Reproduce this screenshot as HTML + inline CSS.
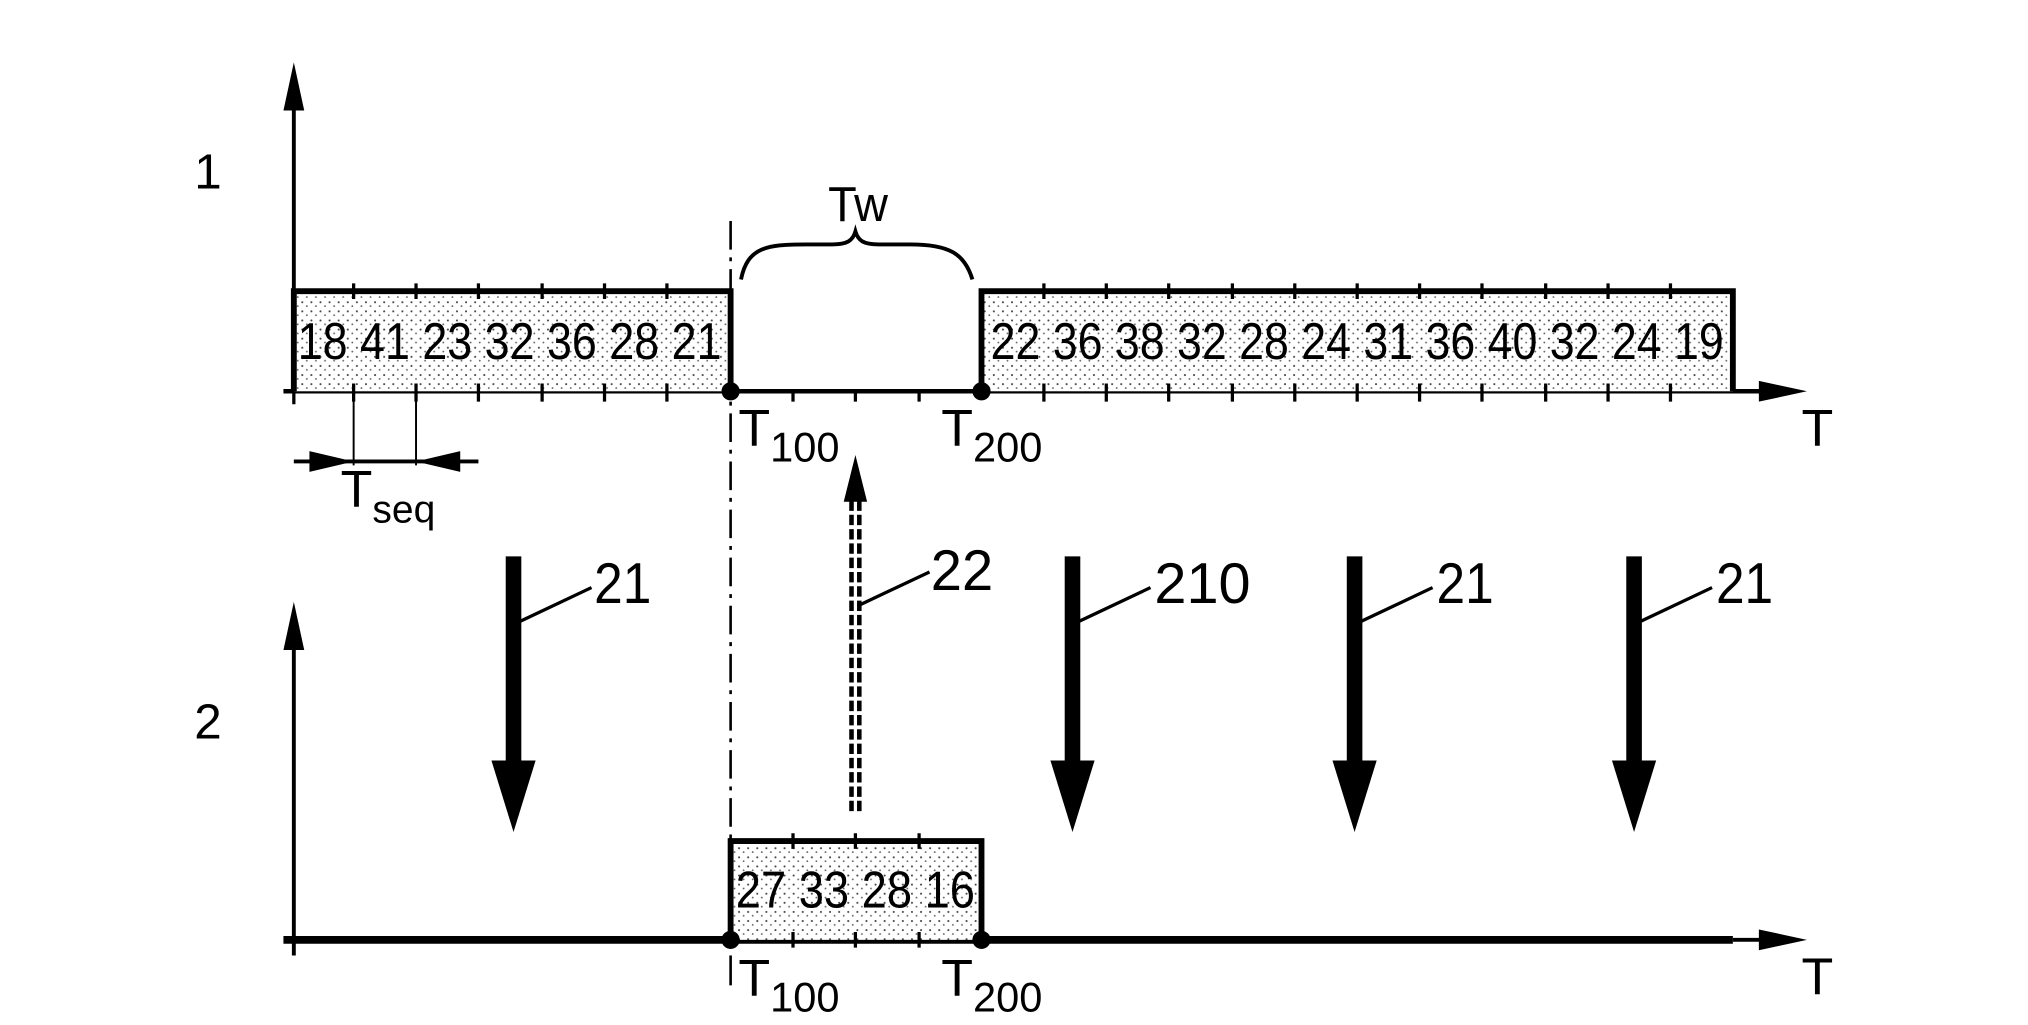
<!DOCTYPE html>
<html><head><meta charset="utf-8"><style>html,body{margin:0;padding:0;background:#fff}svg{display:block}</style></head>
<body>
<svg width="2028" height="1025" viewBox="0 0 1560 788.5" xmlns="http://www.w3.org/2000/svg" font-family="Liberation Sans, sans-serif">
<defs>
<pattern id="dots" width="7" height="7" patternUnits="userSpaceOnUse">
<rect width="7" height="7" fill="#fff"/>
<circle cx="1.5" cy="1.5" r="0.8" fill="#444"/>
<circle cx="5" cy="4.5" r="0.7" fill="#666"/>
</pattern>
</defs>
<g stroke="#000" fill="none">
<line x1="226" y1="80" x2="226" y2="301" stroke-width="3"/>
<line x1="218" y1="301" x2="1360" y2="301" stroke-width="3.5"/>
<rect x="226" y="224" width="336" height="77" fill="url(#dots)" stroke="none"/>
<rect x="755" y="224" width="578" height="77" fill="url(#dots)" stroke="none"/>
<polyline points="226,301 226,224 562,224 562,301" stroke-width="4.5"/>
<polyline points="755,301 755,224 1333,224 1333,301" stroke-width="4.5"/>
<line x1="562" y1="170" x2="562" y2="722" stroke-width="2" stroke-dasharray="22,6,3,6"/>
<path d="M570,215 C575,190 590,188 620,188 L640,188 C652,188 656,185 658,178 C660,185 664,188 676,188 L700,188 C730,188 742,195 748,215" stroke-width="3"/>
<line x1="272" y1="301" x2="272" y2="358" stroke-width="1.5"/>
<line x1="320" y1="301" x2="320" y2="358" stroke-width="1.5"/>
<line x1="226" y1="355" x2="368" y2="355" stroke-width="3"/>
<line x1="226" y1="500" x2="226" y2="735" stroke-width="3"/>
<line x1="218" y1="723" x2="1333" y2="723" stroke-width="6"/>
<line x1="1333" y1="723" x2="1360" y2="723" stroke-width="3"/>
<rect x="562" y="647" width="193" height="76" fill="url(#dots)" stroke="none"/>
<polyline points="562,723 562,647 755,647 755,723" stroke-width="4.5"/>
<line x1="562" y1="735" x2="562" y2="758" stroke-width="2"/>
<line x1="655" y1="385" x2="655" y2="625" stroke-width="3.5" stroke-dasharray="8,3"/>
<line x1="661" y1="385" x2="661" y2="625" stroke-width="3.5" stroke-dasharray="8,3"/>
<line x1="400" y1="478" x2="455" y2="452" stroke-width="2.5"/>
<line x1="662" y1="465" x2="715" y2="440" stroke-width="2.5"/>
<line x1="830" y1="478" x2="885" y2="452" stroke-width="2.5"/>
<line x1="1047" y1="478" x2="1102" y2="452" stroke-width="2.5"/>
<line x1="1262" y1="478" x2="1317" y2="452" stroke-width="2.5"/>
</g>
<g fill="#000">
<polygon points="226,48 218,85 234,85"/>
<polygon points="226,463 218,500 234,500"/>
<polygon points="1390,301 1353,293 1353,309"/>
<polygon points="1390,723 1353,715 1353,731"/>
<polygon points="272,355 238,347 238,363"/>
<polygon points="320,355 354,347 354,363"/>
<polygon points="658,350 649,386 667,386"/>
<circle cx="562" cy="301" r="7"/><circle cx="755" cy="301" r="7"/>
<circle cx="562" cy="723" r="7"/><circle cx="755" cy="723" r="7"/>
<rect x="389" y="428" width="12" height="160"/><polygon points="378,585 412,585 395,640"/>
<rect x="819" y="428" width="12" height="160"/><polygon points="808,585 842,585 825,640"/>
<rect x="1036" y="428" width="12" height="160"/><polygon points="1025,585 1059,585 1042,640"/>
<rect x="1251" y="428" width="12" height="160"/><polygon points="1240,585 1274,585 1257,640"/>
</g>
<g stroke="#000" stroke-width="2.5">
<path d="M272,218v12M320,218v12M368,218v12M417,218v12M465,218v12M513,218v12
M272,295v14M320,295v14M368,295v14M417,295v14M465,295v14M513,295v14M610,301v8M658,301v8M707,301v8
M803,218v12M851,218v12M899,218v12M948,218v12M996,218v12M1044,218v12M1092,218v12M1140,218v12M1189,218v12M1237,218v12M1285,218v12
M803,295v14M851,295v14M899,295v14M948,295v14M996,295v14M1044,295v14M1092,295v14M1140,295v14M1189,295v14M1237,295v14M1285,295v14
M610,641v12M658,641v12M707,641v12M610,717v12M658,717v12M707,717v12M226,301v10M226,723v12"/>
</g>
<g font-size="40" fill="#000" text-anchor="middle">
<text x="160" y="145" font-size="38">1</text>
<text x="160" y="568" font-size="38">2</text>
<text x="1398" y="343" font-size="40">T</text>
<text x="1398" y="765" font-size="40">T</text>
<text x="660" y="170" font-size="38" textLength="46" lengthAdjust="spacingAndGlyphs">Tw</text>
<text x="392" y="276" textLength="326" lengthAdjust="spacingAndGlyphs">18 41 23 32 36 28 21</text>
<text x="1044" y="276" textLength="564" lengthAdjust="spacingAndGlyphs">22 36 38 32 28 24 31 36 40 32 24 19</text>
<text x="658" y="698" textLength="184" lengthAdjust="spacingAndGlyphs">27 33 28 16</text>
</g>
<g font-size="44" fill="#000">
<text x="457" y="464" textLength="44" lengthAdjust="spacingAndGlyphs">21</text>
<text x="716" y="454" textLength="48" lengthAdjust="spacingAndGlyphs">22</text>
<text x="888" y="464" textLength="74" lengthAdjust="spacingAndGlyphs">210</text>
<text x="1105" y="464" textLength="44" lengthAdjust="spacingAndGlyphs">21</text>
<text x="1320" y="464" textLength="44" lengthAdjust="spacingAndGlyphs">21</text>
</g>
<g font-size="40" fill="#000">
<text x="568" y="343">T<tspan font-size="32" dy="12">100</tspan></text>
<text x="724" y="343">T<tspan font-size="32" dy="12">200</tspan></text>
<text x="568" y="766">T<tspan font-size="32" dy="12">100</tspan></text>
<text x="724" y="766">T<tspan font-size="32" dy="12">200</tspan></text>
<text x="262" y="390">T<tspan font-size="30" dy="12">seq</tspan></text>
</g>
</svg>
</body></html>
